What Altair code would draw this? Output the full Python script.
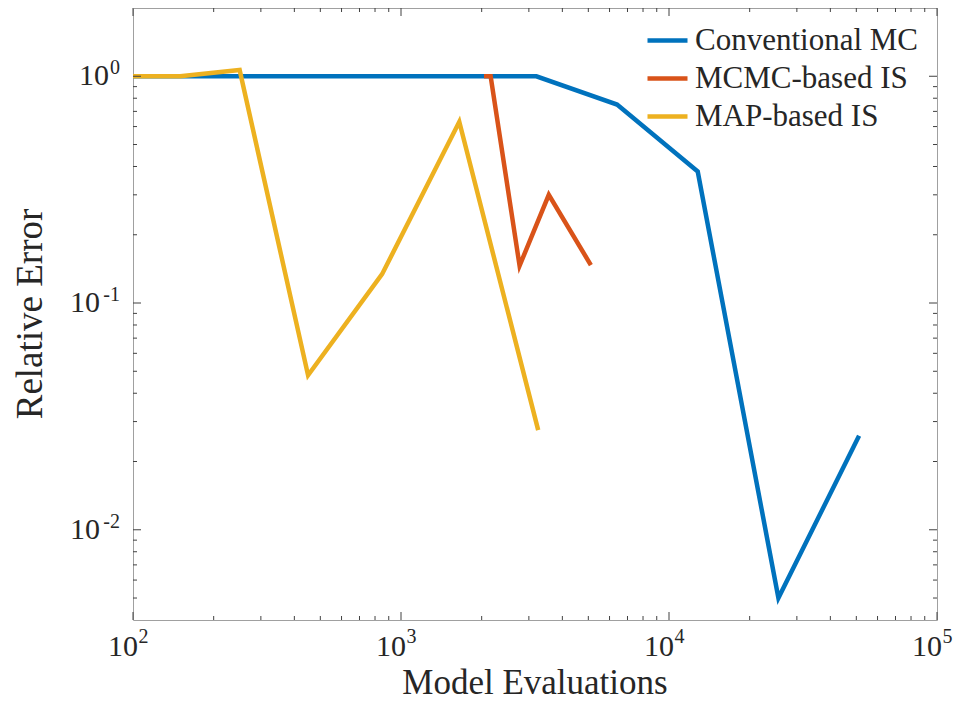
import altair as alt
import pandas as pd

# ---- data ----
mc_evals = [100, 200, 400, 800, 1600, 3200, 6400, 12800, 25600, 51200]
mc_err = [1.0, 1.0, 1.0, 1.0, 1.0, 1.0, 0.75, 0.38, 0.005, 0.026]

mcmc_evals = [2040, 2160, 2770, 3560, 5110]
mcmc_err = [1.0, 1.0, 0.146, 0.30, 0.147]

map_evals = [100, 150, 250, 450, 850, 1650, 3250]
map_err = [1.0, 1.0, 1.065, 0.048, 0.134, 0.63, 0.0275]

series_names = ["Conventional MC", "MCMC-based IS", "MAP-based IS"]
series_colors = ["#0072BD", "#D95319", "#EDB120"]

x_major = [100, 1000, 10000, 100000]
x_major_exp = ["2", "3", "4", "5"]
y_major = [0.01, 0.1, 1.0]
y_major_exp = ["-2", "-1", "0"]

x_title = "Model Evaluations"
y_title = "Relative Error"

x_domain = [100, 100000]
y_domain = [0.004, 2]

FONT = "'Liberation Serif', 'Times New Roman', 'DejaVu Serif', serif"
TXT = "#262626"
W, H = 804, 612

# ---- tables ----
df_mc = pd.DataFrame({"evals": mc_evals, "err": mc_err, "series": series_names[0]})
df_mcmc = pd.DataFrame({"evals": mcmc_evals, "err": mcmc_err, "series": series_names[1]})
df_map = pd.DataFrame({"evals": map_evals, "err": map_err, "series": series_names[2]})

x_minor = [m * 10 ** k for k in (2, 3, 4) for m in range(2, 10)]
y_minor = [m * 10.0 ** k for k in (-3, -2, -1, 0) for m in range(2, 10)]
y_minor = [v for v in y_minor if y_domain[0] < v < y_domain[1]]

df_xmaj = pd.DataFrame({"v": x_major, "e": x_major_exp})
df_ymaj = pd.DataFrame({"v": y_major, "e": y_major_exp})
df_xmin = pd.DataFrame({"v": x_minor})
df_ymin = pd.DataFrame({"v": y_minor})
df_titles = pd.DataFrame({"x_title": [x_title], "y_title": [y_title]})

xscale = alt.Scale(type="log", domain=x_domain, nice=False)
yscale = alt.Scale(type="log", domain=y_domain, nice=False)
cscale = alt.Scale(domain=series_names, range=series_colors)

legend = alt.Legend(title=None, orient="none", legendX=512, legendY=10,
                    symbolType="stroke", symbolSize=1600, symbolStrokeWidth=4.5,
                    labelFont=FONT, labelFontSize=31, labelColor=TXT, labelOffset=5,
                    labelLimit=400, rowPadding=-3, padding=0)

TICK = "#404040"


def xticks(df, y0, y1):
    return alt.Chart(df).mark_rule(color=TICK, strokeWidth=1).encode(
        x=alt.X("v:Q", scale=xscale, axis=None), y=alt.value(y0), y2=alt.value(y1))


def yticks(df, x0, x1):
    return alt.Chart(df).mark_rule(color=TICK, strokeWidth=1).encode(
        y=alt.Y("v:Q", scale=yscale, axis=None), x=alt.value(x0), x2=alt.value(x1))


ticks = [
    xticks(df_xmaj, H, H - 8), xticks(df_xmaj, 0, 8),
    xticks(df_xmin, H, H - 4), xticks(df_xmin, 0, 4),
    yticks(df_ymaj, 0, 8), yticks(df_ymaj, W, W - 8),
    yticks(df_ymin, 0, 4), yticks(df_ymin, W, W - 4),
]


def line(df):
    return alt.Chart(df).mark_line(strokeWidth=4.5).encode(
        x=alt.X("evals:Q", scale=xscale, axis=None),
        y=alt.Y("err:Q", scale=yscale, axis=None),
        color=alt.Color("series:N", scale=cscale, legend=legend),
    )


lines = [line(df_mc), line(df_mcmc), line(df_map)]

# tick labels: "10" with a superscript exponent
xlab_base = alt.Chart(df_xmaj).mark_text(
    text="10", align="right", baseline="alphabetic", dx=5, font=FONT, fontSize=30, color=TXT
).encode(x=alt.X("v:Q", scale=xscale, axis=None), y=alt.value(H + 36))
xlab_sup = alt.Chart(df_xmaj).mark_text(
    align="left", baseline="alphabetic", dx=5.5, font=FONT, fontSize=20, color=TXT
).encode(x=alt.X("v:Q", scale=xscale, axis=None), y=alt.value(H + 23), text="e:N")

ylab_base0 = alt.Chart(df_ymaj).transform_filter(alt.datum.e == "0").mark_text(
    text="10", align="right", baseline="alphabetic", dy=9, font=FONT, fontSize=30, color=TXT
).encode(y=alt.Y("v:Q", scale=yscale, axis=None), x=alt.value(-24))
ylab_baseneg = alt.Chart(df_ymaj).transform_filter(alt.datum.e != "0").mark_text(
    text="10", align="right", baseline="alphabetic", dy=9, font=FONT, fontSize=30, color=TXT
).encode(y=alt.Y("v:Q", scale=yscale, axis=None), x=alt.value(-33))
ylab_sup = alt.Chart(df_ymaj).mark_text(
    align="right", baseline="alphabetic", dy=-2, font=FONT, fontSize=20, color=TXT
).encode(y=alt.Y("v:Q", scale=yscale, axis=None), x=alt.value(-13), text="e:N")

xtitle = alt.Chart(df_titles).mark_text(
    align="center", baseline="alphabetic", font=FONT, fontSize=35, color=TXT
).encode(x=alt.value(W / 2), y=alt.value(H + 74), text="x_title:N")
ytitle = alt.Chart(df_titles).mark_text(
    align="center", baseline="alphabetic", angle=270, font=FONT, fontSize=37, color=TXT
).encode(x=alt.value(-91), y=alt.value(306), text="y_title:N")

chart = alt.layer(
    *lines, *ticks, xlab_base, xlab_sup, ylab_base0, ylab_baseneg, ylab_sup, xtitle, ytitle
).properties(
    width=W, height=H,
    autosize=alt.AutoSizeParams(type="none"),
    padding={"left": 133, "top": 8, "right": 21, "bottom": 83},
    background="white",
).configure_view(stroke="#a0a0a0", strokeWidth=1)

chart.save("out.html", embed_options={"renderer": "svg", "actions": False})
